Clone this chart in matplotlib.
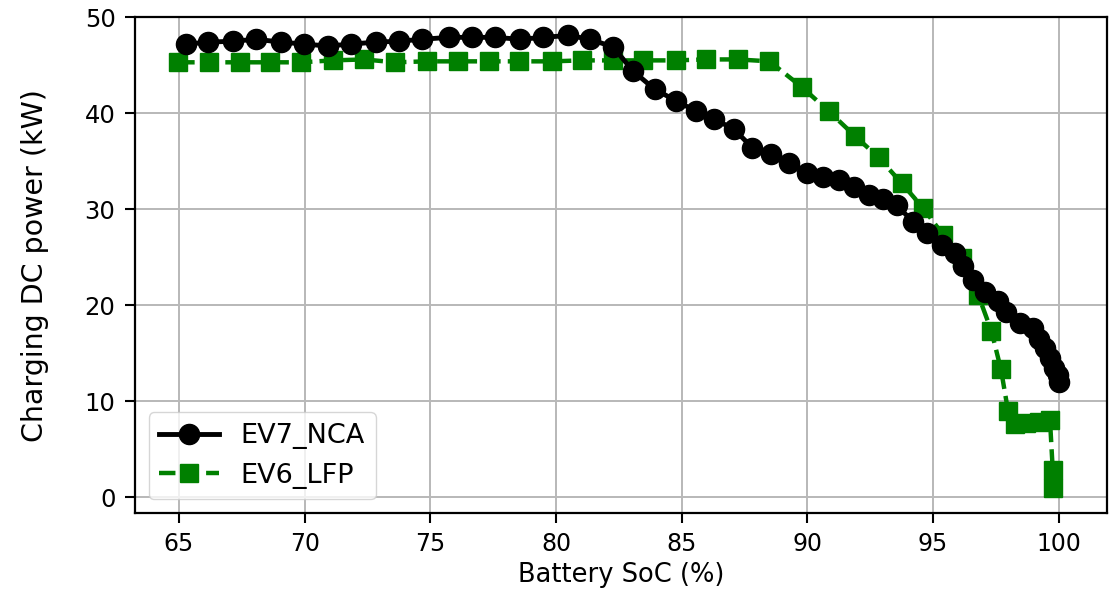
import matplotlib
matplotlib.use("Agg")
import matplotlib.pyplot as plt

# EV7 (NCA) charging curve
soc_nca = [65.3, 66.16, 67.15, 68.08, 69.07, 69.99, 70.92, 71.84, 72.83, 73.76,
           74.68, 75.74, 76.66, 77.58, 78.57, 79.5, 80.49, 81.35, 82.27, 83.06,
           83.92, 84.77, 85.57, 86.29, 87.09, 87.81, 88.54, 89.27, 89.99, 90.62,
           91.26, 91.85, 92.45, 93.0, 93.55, 94.2, 94.74, 95.34, 95.86, 96.2,
           96.6, 97.05, 97.58, 97.91, 98.44, 98.97, 99.2, 99.45, 99.65, 99.8,
           99.95, 100.0]
p_nca = [47.2, 47.4, 47.5, 47.7, 47.4, 47.2, 47.0, 47.2, 47.4, 47.5,
         47.7, 47.9, 47.9, 47.9, 47.7, 47.9, 48.1, 47.7, 46.9, 44.4,
         42.5, 41.3, 40.2, 39.4, 38.3, 36.4, 35.7, 34.8, 33.8, 33.3,
         33.0, 32.3, 31.5, 31.1, 30.4, 28.7, 27.5, 26.3, 25.4, 24.1,
         22.6, 21.4, 20.4, 19.3, 18.1, 17.6, 16.5, 15.5, 14.5, 13.5,
         12.7, 12.0]

# EV6 (LFP) charging curve
soc_lfp = [64.97, 66.2, 67.42, 68.63, 69.86, 71.11, 72.37, 73.58, 74.87, 76.1,
           77.32, 78.53, 79.82, 81.04, 82.27, 83.46, 84.76, 85.95, 87.22, 88.49,
           89.79, 90.85, 91.9, 92.83, 93.75, 94.61, 95.4, 96.13, 96.79, 97.32,
           97.7, 97.98, 98.27, 98.7, 99.2, 99.65, 99.76, 99.78]
p_lfp = [45.3, 45.3, 45.3, 45.3, 45.3, 45.5, 45.6, 45.3, 45.4, 45.4,
         45.4, 45.4, 45.4, 45.5, 45.5, 45.5, 45.5, 45.6, 45.6, 45.4,
         42.7, 40.2, 37.6, 35.4, 32.7, 30.1, 27.3, 24.9, 21.1, 17.3,
         13.3, 9.0, 7.6, 7.7, 7.8, 8.0, 2.8, 0.9]

xticks = [65, 70, 75, 80, 85, 90, 95, 100]
yticks = [0, 10, 20, 30, 40, 50]

fig = plt.figure(figsize=(11.2, 5.93), dpi=100)
ax = fig.add_axes([0.1205, 0.135, 0.8675, 0.836])

ax.plot(soc_nca, p_nca, color="black", marker="o", markersize=14.5,
        linewidth=3.5, linestyle="-", label="EV7_NCA", zorder=3)
ax.plot(soc_lfp, p_lfp, color="green", marker="s", markersize=13,
        linewidth=3.2, linestyle="--", label="EV6_LFP", zorder=2)

ax.set_xlim(63.25, 101.9)
ax.set_ylim(-1.65, 50)
ax.set_xticks(xticks)
ax.set_yticks(yticks)
ax.grid(True, color="#b8b8b8", linewidth=1.4)
ax.set_axisbelow(True)

ax.tick_params(axis="both", length=7, width=1.5, pad=7)
ax.tick_params(axis="x", labelsize=17)
ax.tick_params(axis="y", labelsize=17.5)
for s in ax.spines.values():
    s.set_linewidth(1.6)

ax.set_xlabel("Battery SoC (%)", fontsize=18.5)
ax.set_ylabel("Charging DC power (kW)", fontsize=20.5)
ax.xaxis.set_label_coords(0.5, -0.098)
ax.yaxis.set_label_coords(-0.088, 0.5)

ax.legend(loc="lower left", fontsize=19.5, framealpha=0.8,
          edgecolor="#cccccc", handlelength=2.2)

fig.savefig("out.png", dpi=100, facecolor="white")
